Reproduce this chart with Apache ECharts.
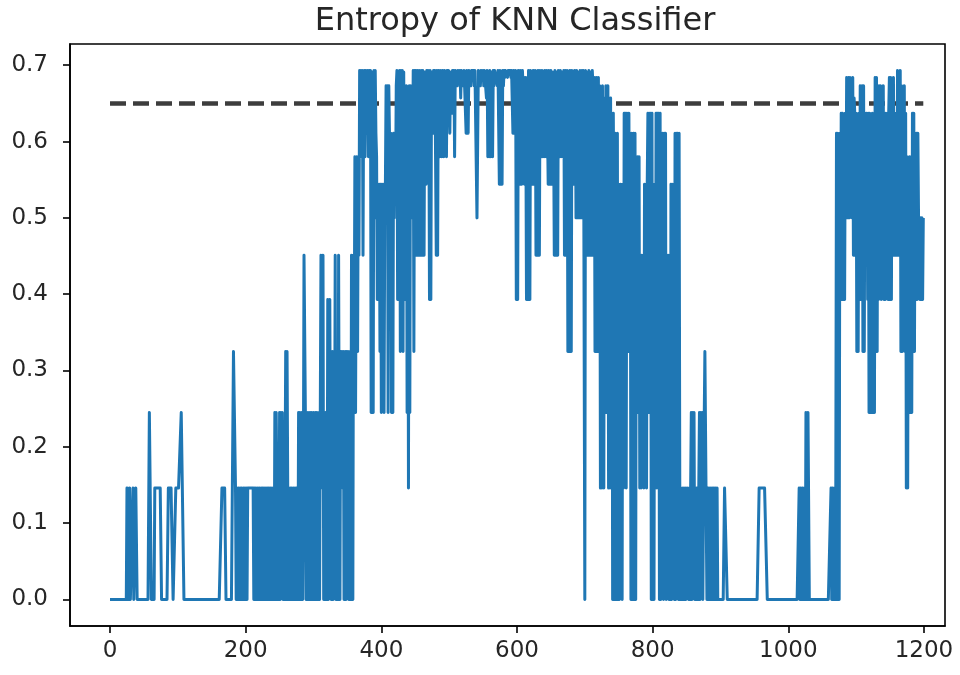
<!DOCTYPE html>
<html>
<head>
<meta charset="utf-8">
<script src="https://cdn.jsdelivr.net/npm/echarts@6/dist/echarts.min.js"></script>
<style>html,body{margin:0;padding:0;background:#fff}#chart{width:960px;height:675px}</style>
</head>
<body>
<div id="chart"></div>
<script>
// Entropy levels that the curve takes (k = 30 neighbours)
const entropyLevels = [0, 0.146, 0.245, 0.325, 0.393, 0.451, 0.500, 0.544,
                       0.580, 0.611, 0.637, 0.657, 0.673, 0.684, 0.691, 0.693];
// One hex digit per sample (index into entropyLevels), 50 samples per row
const entropyCodes = [
  "0000000000 0000000000 0000011001 0000100011 0000000000", // 0
  "0000000022 2000001111 1111110000 0000001111 1110000111", // 50
  "1111122220 0000000000 0000000000 0000000000 0000000000", // 100
  "0000000000 0000011111 1000000000 0033310101 1010110101", // 150
  "0101111111 1101011010 1101010110 1010101101 0102021010", // 200
  "2021201013 0310101011 0101011020 2102015520 2021020210", // 250
  "2012021020 2521502021 0402410230 3150320510 3132302303", // 300
  "1302305205 38268385f8 f9f5df8fe9 f8fcf2ef2f 6f98475737", // 350
  "2747267c6c 2c95928296 97cf4e7f3f 5f3e4c8c2b 1c2c6c7f3f", // 400
  "9f5fc5fe5f 5fc5ef7fdf c4f4ef9fcf e5f5fc8fe8 fc8fef8fdf", // 450
  "f9efafcf8f efcffdfbfe fcfef9fa9f efcffefcfe f66fefcffd", // 500
  "fcfefbf8c8 f8ea8fcfef fcfe7f7c7f cfdfefdffe fdfe9fc9f4", // 550
  "e4fc7f97fc d7da4d4fb4 f7e7fc7f5e 5fc5f98f8e 8fc8fe7f7c", // 600
  "f7ef95f5ec 5f98f8ef8f 5fc5f3e3f9 3f7e7fc6f6 e96f6cf6fe", // 650
  "0f5ec5f5e9 5fc5d3cd3a d3c1a1c41b 2c29c1a1b1 a0a5091090", // 700
  "70671071a3 a1a39a3909 0890908282 8151525172 717a2a5a0a", // 750
  "07071a1a2a 0a09190929 0515050707 1709091909 1010010010", // 800
  "0110101202 1201011012 0212011333 0101101010 1011010000", // 850
  "0000001111 0000000000 0000000000 0000000000 0000000000", // 900
  "0000000111 1111111110 0000000000 0000000000 0000000000", // 950
  "0000000000 0000001011 0110102202 2000000000 0000000000", // 1000
  "0000000000 0001011010 19091094a4 a494a6d6cd 6d8c6d5ba5", // 1050
  "a393a4c4bc 3c3a5a94a2 a292a282d4 d3c4c5c4b5 c4a4a594ad", // 1100
  "4d4c5d5a5a 5f5e6f3c3b 4c3a181728 282a3a3969 4966464646"  // 1150
];
const thresholdValue = 0.65;
const thresholdRange = [0, 1199];
const xTicks = [0, 200, 400, 600, 800, 1000, 1200];
const yTicks = [0, 0.1, 0.2, 0.3, 0.4, 0.5, 0.6, 0.7];

const codeStr = entropyCodes.join('').replace(/\s/g, '');
const entropyData = [];
for (let i = 0; i < codeStr.length; i++) {
  entropyData.push([i, entropyLevels[parseInt(codeStr[i], 16)]]);
}
const thresholdData = thresholdRange.map(x => [x, thresholdValue]);

const chart = echarts.init(document.getElementById('chart'), null, {renderer: 'canvas'});
const font = 'DejaVu Sans';
chart.setOption({
  animation: false,
  backgroundColor: '#fff',
  title: {
    text: 'Entropy of KNN Classifier',
    left: 510, top: 1, textAlign: 'center',
    textStyle: {fontFamily: font, fontSize: 32, fontWeight: 'normal', color: '#262626'}
  },
  grid: {left: 70, right: 15, top: 44, height: 582, show: true,
         borderColor: '#000', borderWidth: 1.6, backgroundColor: 'transparent'},
  xAxis: {
    type: 'value', min: -59, max: 1231,
    axisLine: {show: true, onZero: false, lineStyle: {color: '#000', width: 1.6}},
    axisTick: {show: true, inside: false, length: 7, lineStyle: {color: '#000', width: 1.6},
               customValues: xTicks},
    axisLabel: {customValues: xTicks, fontFamily: font, fontSize: 23, color: '#262626', margin: 14,
                formatter: v => String(v)},
    splitLine: {show: false}
  },
  yAxis: {
    type: 'value', min: -0.0347, max: 0.7278,
    axisLine: {show: true, onZero: false, lineStyle: {color: '#000', width: 1.6}},
    axisTick: {show: true, inside: false, length: 7, lineStyle: {color: '#000', width: 1.6},
               customValues: yTicks},
    axisLabel: {customValues: yTicks, fontFamily: font, fontSize: 23, color: '#262626', margin: 22,
                formatter: v => v.toFixed(1)},
    splitLine: {show: false}
  },
  series: [
    {
      type: 'line', data: thresholdData, showSymbol: false, z: 1,
      lineStyle: {color: '#3d3d3d', width: 4.5, type: [16, 7]}
    },
    {
      type: 'line', data: entropyData, showSymbol: false, z: 2, sampling: null,
      lineStyle: {color: '#1f77b4', width: 3, join: 'round', cap: 'butt'}
    }
  ]
});
</script>
</body>
</html>
